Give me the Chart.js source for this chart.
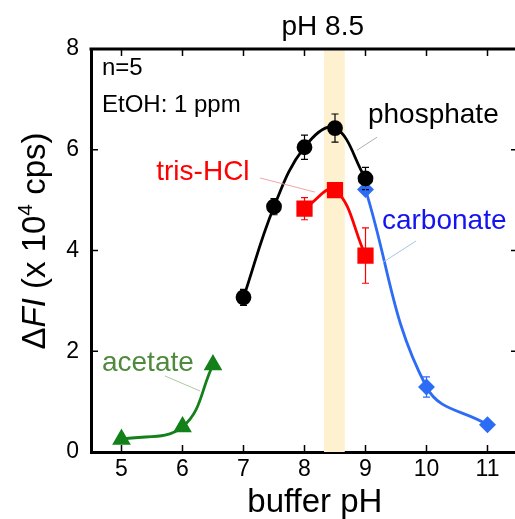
<!DOCTYPE html>
<html>
<head>
<meta charset="utf-8">
<script src="https://cdn.jsdelivr.net/npm/chart.js@4.4.1/dist/chart.umd.min.js"></script>
<style>
  html, body { margin: 0; padding: 0; background: #fff; overflow: hidden; }
</style>
</head>
<body>
<canvas id="phChart" width="540" height="519"></canvas>
<script>
const xTicks = [5, 6, 7, 8, 9, 10, 11];
const yTicks = [0, 2, 4, 6, 8];

const phosphatePH = [7, 7.5, 8, 8.5, 9];
const phosphateFI = [3.07, 4.87, 6.05, 6.43, 5.43];
const phosphateErr = [0.16, 0.16, 0.24, 0.28, 0.22];

const trisPH = [8, 8.5, 9];
const trisFI = [4.83, 5.2, 3.9];
const trisErr = [0.22, 0.12, 0.55];

const carbonatePH = [9, 10, 11];
const carbonateFI = [5.21, 1.29, 0.54];
const carbonateErr = [0.05, 0.2, 0.04];

const acetatePH = [5, 6, 6.5];
const acetateFI = [0.25, 0.5, 1.73];
const acetateErr = [0.03, 0.05, 0.05];

const bandPH = [8.32, 8.66];

// text labels, positions in data units: [text, x, y, colour, leader from, leader to, leader colour]
const labels = [
  ['phosphate', 9.04, 6.53, '#000', [9.19, 6.25], [8.86, 5.99], '#b0b0b0'],
  ['tris-HCl', 5.57, 5.40, '#ff0000', [7.27, 5.44], [8.17, 5.16], '#f5a3a3'],
  ['carbonate', 9.27, 4.43, '#1414f0', [9.83, 4.19], [9.29, 3.77], '#a9c1ea'],
  ['acetate', 4.68, 1.61, '#4f8a3c', [5.71, 1.51], [6.29, 1.21], '#a9cba0']
];

const FONT = '"Liberation Sans", Arial, sans-serif';

function pts(xs, ys) {
  return xs.map((x, i) => ({ x: x, y: ys[i] }));
}

function series(label, xs, ys, errs, color, style, radius) {
  return {
    label: label,
    data: pts(xs, ys),
    errors: errs,
    borderColor: color,
    backgroundColor: color,
    pointBackgroundColor: color,
    pointBorderColor: color,
    pointStyle: style,
    pointRadius: radius,
    borderWidth: 2.8,
    tension: 0.4,
    fill: false
  };
}

const extras = {
  id: 'extras',
  beforeDatasetsDraw(chart) {
    const { ctx, chartArea: a, scales: { x } } = chart;
    ctx.save();
    ctx.fillStyle = '#fdf1cf';
    const l = x.getPixelForValue(bandPH[0]);
    const r = x.getPixelForValue(bandPH[1]);
    ctx.fillRect(l, a.top, r - l, a.bottom - a.top);
    ctx.restore();
  },
  afterDatasetsDraw(chart) {
    const { ctx, scales: { x, y } } = chart;
    ctx.save();
    chart.data.datasets.forEach(ds => {
      ctx.strokeStyle = ds.borderColor;
      ctx.lineWidth = 1.2;
      ds.data.forEach((p, i) => {
        const e = ds.errors[i];
        const px = x.getPixelForValue(p.x);
        const t = y.getPixelForValue(p.y + e);
        const b = y.getPixelForValue(p.y - e);
        ctx.beginPath();
        ctx.moveTo(px, t); ctx.lineTo(px, b);
        ctx.moveTo(px - 3.5, t); ctx.lineTo(px + 3.5, t);
        ctx.moveTo(px - 3.5, b); ctx.lineTo(px + 3.5, b);
        ctx.stroke();
      });
    });
    ctx.restore();
  },
  afterDraw(chart) {
    const { ctx, chartArea: a, scales: { x, y } } = chart;
    ctx.save();
    // top and right frame
    ctx.strokeStyle = '#000';
    ctx.lineWidth = 3;
    ctx.beginPath();
    ctx.moveTo(a.left - 1.5, a.top); ctx.lineTo(a.right, a.top); ctx.lineTo(a.right, a.bottom);
    ctx.stroke();
    // inward ticks
    ctx.lineWidth = 1.5;
    ctx.beginPath();
    xTicks.forEach(v => {
      const px = x.getPixelForValue(v);
      ctx.moveTo(px, a.bottom); ctx.lineTo(px, a.bottom - 7);
      ctx.moveTo(px, a.top); ctx.lineTo(px, a.top + 7);
    });
    yTicks.forEach(v => {
      const py = y.getPixelForValue(v);
      ctx.moveTo(a.left, py); ctx.lineTo(a.left + 7, py);
      ctx.moveTo(a.right, py); ctx.lineTo(a.right - 7, py);
    });
    ctx.stroke();

    // leader lines and series names
    ctx.lineWidth = 1;
    ctx.textBaseline = 'alphabetic';
    ctx.textAlign = 'left';
    ctx.font = '28px ' + FONT;
    labels.forEach(([txt, tx, ty, col, p0, p1, lc]) => {
      ctx.strokeStyle = lc;
      ctx.beginPath();
      ctx.moveTo(x.getPixelForValue(p0[0]), y.getPixelForValue(p0[1]));
      ctx.lineTo(x.getPixelForValue(p1[0]), y.getPixelForValue(p1[1]));
      ctx.stroke();
      ctx.fillStyle = col;
      ctx.fillText(txt, x.getPixelForValue(tx), y.getPixelForValue(ty));
    });

    ctx.fillStyle = '#000';
    ctx.font = '24px ' + FONT;
    ctx.fillText('n=5', x.getPixelForValue(4.68), y.getPixelForValue(7.48));
    ctx.fillText('EtOH: 1 ppm', x.getPixelForValue(4.68), y.getPixelForValue(6.75));

    ctx.textAlign = 'center';
    ctx.font = '28px ' + FONT;
    ctx.fillText('pH 8.5', x.getPixelForValue(8.3), a.top - 14);

    ctx.font = '33px ' + FONT;
    ctx.fillText('buffer pH', x.getPixelForValue(8.17), chart.height - 7);

    // y title: ΔFI (x 10^4 cps)
    const parts = [
      ['\u0394', '33px ' + FONT, 0],
      ['FI', 'italic 33px ' + FONT, 0],
      [' (x 10', '33px ' + FONT, 0],
      ['4', '21px ' + FONT, -13],
      [' cps)', '33px ' + FONT, 0]
    ];
    let total = 0;
    parts.forEach(p => { ctx.font = p[1]; total += ctx.measureText(p[0]).width; });
    ctx.translate(45, 241);
    ctx.rotate(-Math.PI / 2);
    ctx.textAlign = 'left';
    let cx = -total / 2;
    parts.forEach(p => {
      ctx.font = p[1];
      ctx.fillText(p[0], cx, p[2]);
      cx += ctx.measureText(p[0]).width;
    });
    ctx.restore();
  }
};

const config = {
  type: 'line',
  data: {
    datasets: [
      series('phosphate', phosphatePH, phosphateFI, phosphateErr, '#000000', 'circle', 6.5),
      series('tris-HCl', trisPH, trisFI, trisErr, '#ff0000', 'rect', 9.5),
      series('carbonate', carbonatePH, carbonateFI, carbonateErr, '#2d6cf5', 'rectRot', 6.5),
      series('acetate', acetatePH, acetateFI, acetateErr, '#13801a', 'triangle', 8)
    ]
  },
  options: {
    responsive: false,
    animation: false,
    layout: { padding: { left: 0, top: 49, right: 22, bottom: 0 } },
    plugins: {
      legend: { display: false },
      tooltip: { enabled: false },
      title: { display: false }
    },
    scales: {
      x: {
        type: 'linear',
        min: 4.5,
        max: 11.5,
        afterBuildTicks: s => { s.ticks = xTicks.map(v => ({ value: v })); },
        afterFit: s => { s.height = 67; },
        grid: { display: false, drawTicks: false },
        border: { display: true, color: '#000', width: 3 },
        ticks: { color: '#000', padding: 4, font: { size: 23, family: FONT } }
      },
      y: {
        type: 'linear',
        min: 0,
        max: 8,
        afterBuildTicks: s => { s.ticks = yTicks.map(v => ({ value: v })); },
        afterFit: s => { s.width = 91; },
        grid: { display: false, drawTicks: false },
        border: { display: true, color: '#000', width: 3 },
        ticks: { color: '#000', padding: 12, font: { size: 23, family: FONT } }
      }
    }
  },
  plugins: [extras]
};

new Chart(document.getElementById('phChart'), config);
</script>
</body>
</html>
